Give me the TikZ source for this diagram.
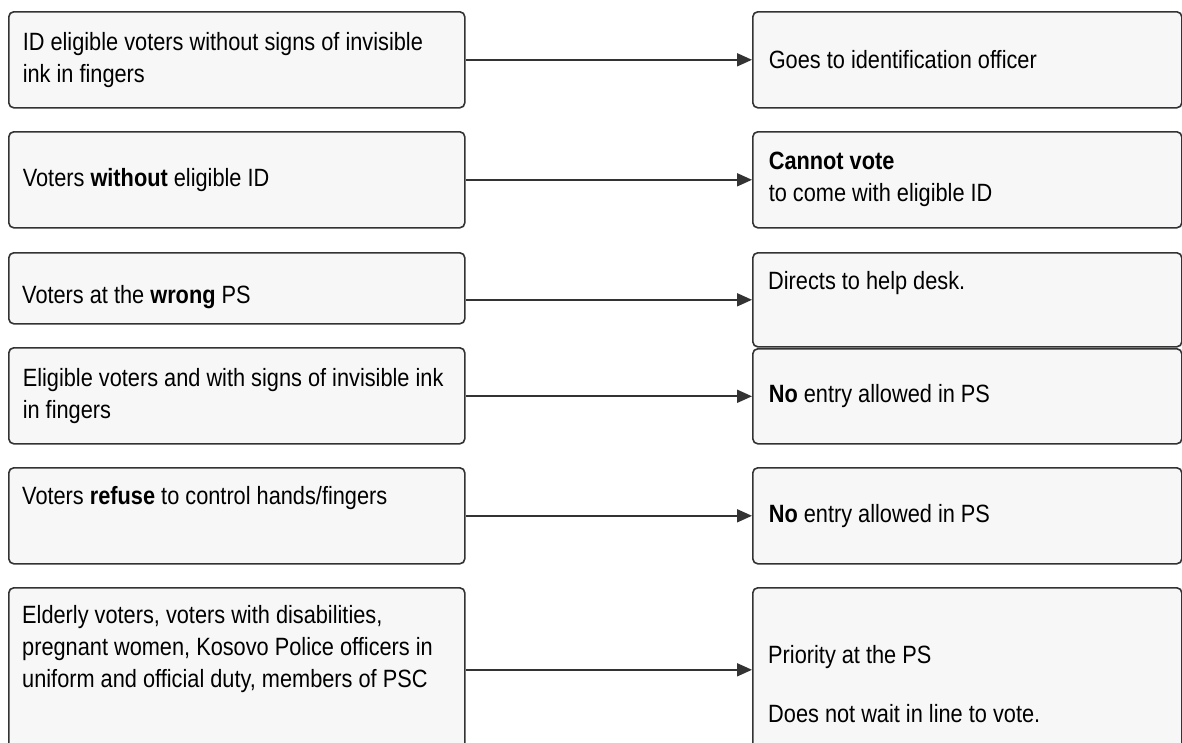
\documentclass[tikz,border=0pt]{standalone}
\usepackage{fontspec}
\setmainfont{Liberation Sans}[FakeStretch=0.87]
\usetikzlibrary{arrows.meta}
\definecolor{boxline}{HTML}{333333}
\definecolor{boxfill}{HTML}{F7F7F7}

\begin{document}
\begin{tikzpicture}[x=1pt,y=-1pt,
    box/.style={draw=boxline,fill=boxfill,line width=1.6pt,rounded corners=5pt,
      anchor=north west,align=flush left,font=\fontsize{25}{32}\selectfont},
    lbox/.style={box,inner xsep=14pt,text width=428pt,minimum width=456pt},
    rbox/.style={box,inner xsep=16pt,text width=397pt,minimum width=429pt},
    txt/.style={anchor=base west,align=flush left,inner sep=0pt,font=\fontsize{25}{32}\selectfont},
    arr/.style={draw=boxline,line width=1.8pt,-{Triangle[length=15pt,width=13pt]}}]
  \useasboundingbox (0,0) rectangle (1182,742);

  % left column: who arrives
  \node[lbox,minimum height=96pt] (l1) at (8,11) {ID eligible voters without signs of invisible\\ink in fingers};
  \node[lbox,minimum height=96pt] (l2) at (8,131) {Voters \textbf{without} eligible ID};
  \node[lbox,minimum height=71pt] (l3) at (8,252) {};
  \node[lbox,minimum height=96pt] (l4) at (8,347) {Eligible voters and with signs of invisible ink\\in fingers};
  \node[lbox,minimum height=96pt] (l5) at (8,467) {};
  \node[lbox,minimum height=164pt] (l6) at (8,587) {};
  \node[txt] (l3t) at ([shift={(14,51)}]l3.north west) {Voters at the \textbf{wrong} PS};
  \node[txt] (l5t) at ([shift={(14,37)}]l5.north west) {Voters \textbf{refuse} to control hands/fingers};
  \node[txt] (l6t) at ([shift={(14,100)}]l6.north west) {Elderly voters, voters with disabilities,\\pregnant women, Kosovo Police officers in\\uniform and official duty, members of PSC};

  % right column: what happens
  \node[rbox,minimum height=96pt] (r1) at (752,11) {Goes to identification officer};
  \node[rbox,minimum height=96pt] (r2) at (752,131) {\textbf{Cannot vote}\\to come with eligible ID};
  \node[rbox,minimum height=94pt] (r3) at (752,252) {};
  \node[rbox,minimum height=95pt] (r4) at (752,348) {\textbf{No} entry allowed in PS};
  \node[rbox,minimum height=96pt] (r5) at (752,467) {\textbf{No} entry allowed in PS};
  \node[rbox,minimum height=164pt] (r6) at (752,587) {};
  \node[txt] (r3t) at ([shift={(16,37)}]r3.north west) {Directs to help desk.};
  \node[txt] (r6t) at ([shift={(16,135)}]r6.north west) {Priority at the PS\\[27pt]Does not wait in line to vote.};

  % arrows
  \foreach \i in {1,...,6}
    \draw[arr] (l\i.east |- r\i.west) -- (r\i.west);
\end{tikzpicture}
\end{document}
